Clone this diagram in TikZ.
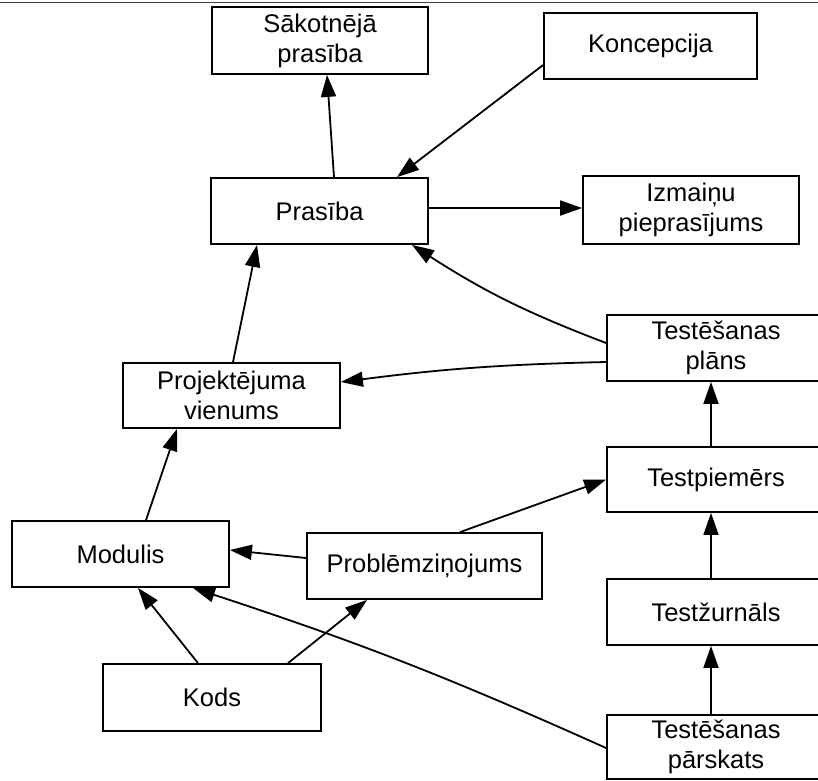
\documentclass[tikz,border=0pt]{standalone}
\usepackage{fontspec}
\setmainfont{Liberation Sans}
\usetikzlibrary{arrows.meta,calc}
\begin{document}
\begin{tikzpicture}[x=1pt,y=-1pt,
  box/.style={draw, line width=1.8pt, rectangle, inner sep=0pt, align=center,
    minimum width=217pt, minimum height=66pt,
    font=\fontsize{25.5}{30}\selectfont},
  link/.style={line width=1.8pt, -{Triangle[length=22pt,width=15pt]}}]
\useasboundingbox (0,0) rectangle (818,780);
\clip (0,0) rectangle (818,780);
\fill[white] (0,0) rectangle (818,780);

% rule along the top edge
\draw[line width=1.3pt, black!75] (0,2.5) -- (818,2.5);

% left and middle column
\node[box, minimum width=216pt, minimum height=67pt] (sak) at (320,40.5) {Sākotnējā\\prasība};
\node[box, minimum width=213pt] (konc) at (650.5,46) {Koncepcija};
\node[box] (pras) at (319.5,211) {Prasība};
\node[box, minimum width=216pt, minimum height=68pt] (izm) at (691,210) {Izmaiņu\\pieprasījums};
\node[box, minimum height=65pt] (proj) at (231.5,395.5) {Projektējuma\\vienums};
\node[box] (mod) at (120.5,554) {Modulis};
\node[box, minimum width=235pt] (probl) at (424.5,566) {Problēmziņojums};
\node[box, minimum width=218pt, minimum height=67pt] (kods) at (212,697.5) {Kods};

% right column, running past the right edge
\node[box, minimum width=218pt] (tplan) at (716,348) {Testēšanas\\plāns};
\node[box, minimum width=218pt, minimum height=65pt] (tpiem) at (716,479.5) {Testpiemērs};
\node[box, minimum width=218pt] (tzurn) at (716,612) {Testžurnāls};
\node[box, minimum width=218pt, minimum height=64pt] (tpars) at (716,747) {Testēšanas\\pārskats};

% connectors
\draw[link] ($(pras.north)+(14.5,0)$) -- ($(sak.south)+(7,0)$);
\draw[link] ($(konc.west)+(0,19)$) -- ($(pras.north)+(77.5,0)$);
\draw[link] ($(pras.east)+(0,-3)$) -- ($(izm.west)+(0,-2)$);
\draw[link] ($(tplan.west)+(0,-5)$) to[bend left=6] ($(pras.south)+(92.5,0)$);
\draw[link] ($(tplan.west)+(0,14)$) to[bend right=3] ($(proj.east)+(0,-13.5)$);
\draw[link] ($(proj.north)+(1.5,0)$) -- ($(pras.south)+(-62.5,0)$);
\draw[link] ($(mod.north)+(25.5,0)$) -- ($(proj.south)+(-54.5,0)$);
\draw[link] ($(probl.west)+(0,-8)$) -- ($(mod.east)+(0,-4)$);
\draw[link] ($(probl.north)+(35.5,0)$) -- (tpiem.west);
\draw[link] ($(kods.north)+(-14,0)$) -- ($(mod.south)+(17.5,0)$);
\draw[link] ($(kods.north)+(76,0)$) -- ($(probl.south)+(-57.5,0)$);
\draw[link] ($(tpars.west)+(0,1)$) to[bend right=3] ($(mod.south)+(72.5,0)$);
\draw[link] ($(tpiem.north)+(-5,0)$) -- ($(tplan.south)+(-5,0)$);
\draw[link] ($(tzurn.north)+(-5,0)$) -- ($(tpiem.south)+(-5,0)$);
\draw[link] ($(tpars.north)+(-5,0)$) -- ($(tzurn.south)+(-5,0)$);
\end{tikzpicture}
\end{document}
